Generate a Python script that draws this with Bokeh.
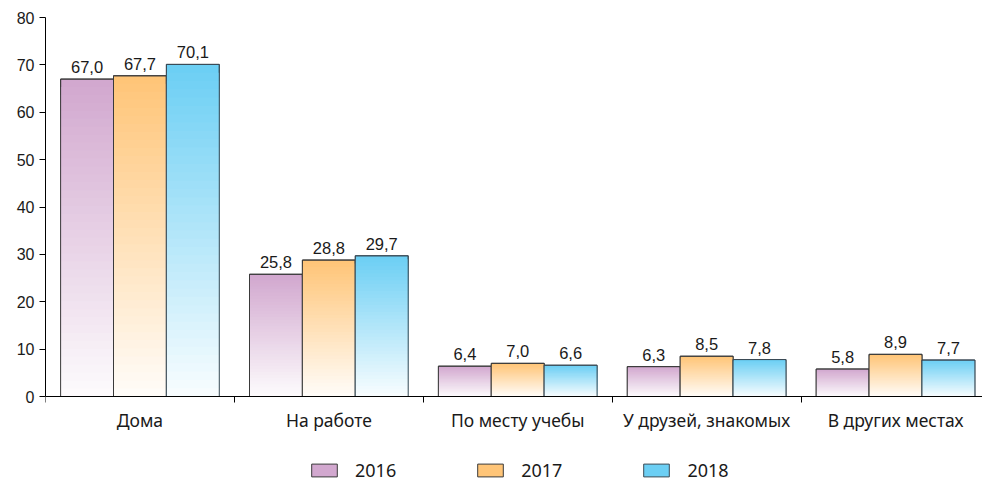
from bokeh.plotting import figure
from bokeh.models import Range1d, FixedTicker, Legend, LegendItem
from bokeh.core.properties import value
from bokeh.embed import file_html
from bokeh.resources import INLINE

categories = ["Дома", "На работе", "По месту учебы", "У друзей, знакомых", "В других местах"]
years = ["2016", "2017", "2018"]
v2016 = [67.0, 25.8, 6.4, 6.3, 5.8]
v2017 = [67.7, 28.8, 7.0, 8.5, 8.9]
v2018 = [70.1, 29.7, 6.6, 7.8, 7.7]
y_ticks = [0, 10, 20, 30, 40, 50, 60, 70, 80]

series = [v2016, v2017, v2018]
top_colors = [(210, 168, 207), (255, 197, 120), (108, 207, 244)]
edge_colors = ["#3a3a3a", "#3a3a3a", "#3a4a55"]

BAR_W = 0.28
N_STEPS = 40
Y_MAX = 80
PX_PER_UNIT = 379 / 80.0
FRAME_H = 483 - 17
Y_MIN = Y_MAX - FRAME_H / PX_PER_UNIT
X_MAX = (982 - 45) / 188.9

p = figure(width=982, height=483, output_backend="svg", toolbar_location=None,
           x_range=Range1d(0, X_MAX), y_range=Range1d(Y_MIN, Y_MAX),
           min_border_left=45, min_border_top=17, min_border_right=0, min_border_bottom=0)
p.outline_line_color = None
p.xgrid.grid_line_color = None
p.ygrid.grid_line_color = None
p.background_fill_color = "white"
p.border_fill_color = "white"

legend_items = []
for j, vals in enumerate(series):
    xs = [i + 0.5 + (j - 1) * BAR_W for i in range(len(categories))]
    left = [x - BAR_W / 2 for x in xs]
    right = [x + BAR_W / 2 for x in xs]
    r, g, b = top_colors[j]
    hexc = "#%02x%02x%02x" % (r, g, b)
    base = p.quad(left=left, right=right, bottom=0, top=vals,
                  fill_color=hexc, line_color=edge_colors[j], line_width=1)
    legend_items.append(LegendItem(label=years[j], renderers=[base]))
    # gradient: progressively shorter & lighter quads drawn on top
    for k in range(1, N_STEPS):
        f = 1 - k / N_STEPS  # fraction of height
        t = k / N_STEPS      # how much toward white
        c = (round(r + (255 - r) * t * 0.97), round(g + (255 - g) * t * 0.97), round(b + (255 - b) * t * 0.97))
        p.quad(left=left, right=right, bottom=0, top=[v * f for v in vals],
               fill_color="#%02x%02x%02x" % c, line_color=None)
    p.quad(left=left, right=right, bottom=0, top=vals,
           fill_color=None, line_color=edge_colors[j], line_width=1)
    labels = [("%.1f" % v).replace(".", ",") for v in vals]
    p.text(x=xs, y=vals, text=labels, text_align="center", text_baseline="bottom",
           y_offset=-6, text_font=value("Liberation Sans"), text_font_size="16.5px",
           text_color="#1a1a1a")

# x axis, pinned at y = 0 inside the frame
xa = p.xaxis[0]
xa.fixed_location = 0
xa.ticker = FixedTicker(ticks=[i + 0.5 for i in range(len(categories))],
                        minor_ticks=list(range(len(categories) + 1)))
xa.major_label_overrides = {i + 0.5: c for i, c in enumerate(categories)}
xa.major_tick_line_color = None
xa.major_tick_out = 6
xa.minor_tick_out = 6
xa.minor_tick_in = 0
xa.minor_tick_line_color = "black"
xa.axis_line_color = "black"
xa.major_label_text_font = "Noto Sans"
xa.major_label_text_font_size = "17.5px"
xa.major_label_text_color = "#1a1a1a"
xa.major_label_standoff = 5

ya = p.yaxis[0]
ya.ticker = FixedTicker(ticks=y_ticks)
ya.bounds = (0, Y_MAX)
ya.major_tick_out = 6
ya.major_tick_in = 0
ya.minor_tick_line_color = None
ya.axis_line_color = "black"
ya.major_label_text_font = "Liberation Sans"
ya.major_label_text_font_size = "16px"
ya.major_label_text_color = "#1a1a1a"
ya.major_label_standoff = 5

legend = Legend(items=legend_items, orientation="horizontal", location=(263, 1),
                glyph_width=32, glyph_height=16, label_standoff=15, spacing=78,
                label_text_font="Noto Sans", label_text_font_size="18px",
                label_text_color="#1a1a1a", border_line_color=None,
                background_fill_alpha=0, padding=0, margin=0)
p.add_layout(legend, "center")

open("out.html", "w").write(file_html(p, INLINE))
